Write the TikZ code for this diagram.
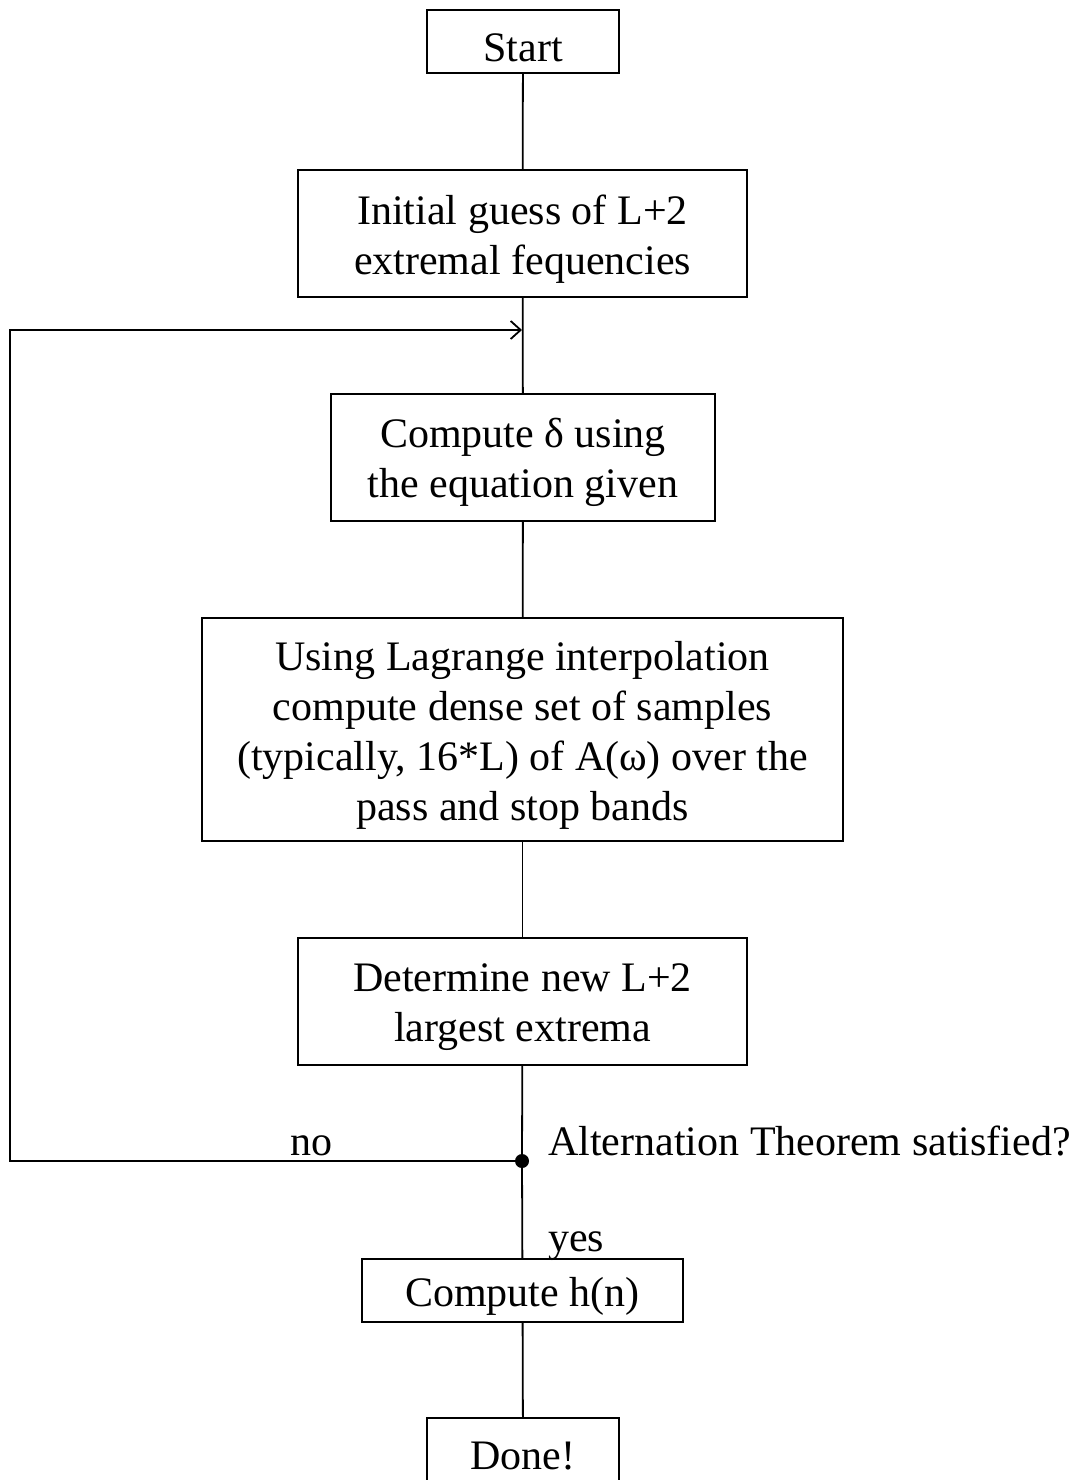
\documentclass[tikz,border=0pt]{standalone}
\usepackage{fontspec}
\setmainfont{Liberation Serif}
\usetikzlibrary{arrows.meta}
\newcommand{\topstrut}{\rule{0pt}{40pt}}
\begin{document}
\begin{tikzpicture}[x=1pt,y=-1pt,
  box/.style={draw, line width=1.8pt, align=center, inner sep=0pt, font=\fontsize{42}{50}\selectfont},
  lbl/.style={inner sep=0pt, font=\fontsize{42}{50}\selectfont},
  conn/.style={line width=1.8pt}]
\useasboundingbox (0,0) rectangle (1080,1480);
\fill[white] (0,0) rectangle (1080,1480);
\node[box, minimum width=192pt, minimum height=63pt] (start) at (523,41.5) {\topstrut Start};
\node[box, minimum width=449pt, minimum height=127pt] (init) at (522.5,233.5) {\topstrut Initial guess of L+2\\extremal fequencies};
\node[box, minimum width=384pt, minimum height=127pt] (delta) at (523,457.5) {\topstrut Compute δ using\\the equation given};
\node[box, minimum width=641pt, minimum height=223pt] (lagr) at (522.5,729.5) {\topstrut Using Lagrange interpolation\\compute dense set of samples\\(typically, 16*L) of A(ω) over the\\pass and stop bands};
\node[box, minimum width=449pt, minimum height=127pt] (det) at (522.5,1001.5) {\topstrut Determine new L+2\\largest extrema};
\node[box, minimum width=321pt, minimum height=63pt] (hn) at (522.5,1290.5) {\topstrut Compute h(n)};
\node[box, minimum width=192pt, minimum height=63pt] (done) at (523,1449.5) {\topstrut Done!};
\node[circle, fill=black, inner sep=0pt, minimum size=14pt] (dot) at (522,1161) {};
\coordinate (join) at (522,330);
\coordinate (bl) at (10,1161);
\coordinate (tl) at (10,330);
\node[lbl, anchor=base west] (alt) at (548,1155) {Alternation Theorem satisfied?};
\node[lbl, anchor=base west] (no) at (290,1155) {no};
\node[lbl, anchor=base west] (yes) at (548,1251) {yes};
\draw[conn] (start) -- (init);
\draw[conn] (init) -- (delta);
\draw[conn] (delta) -- (lagr);
\draw[conn] (lagr) -- (det);
\draw[conn] (det) -- (dot);
\draw[conn] (dot) -- (hn);
\draw[conn] (hn) -- (done);
\draw[conn, -{Straight Barb[length=10pt,width=18pt,line width=1.8pt]}] (dot) -- (bl) -- (tl) -- (join);
\end{tikzpicture}
\end{document}
